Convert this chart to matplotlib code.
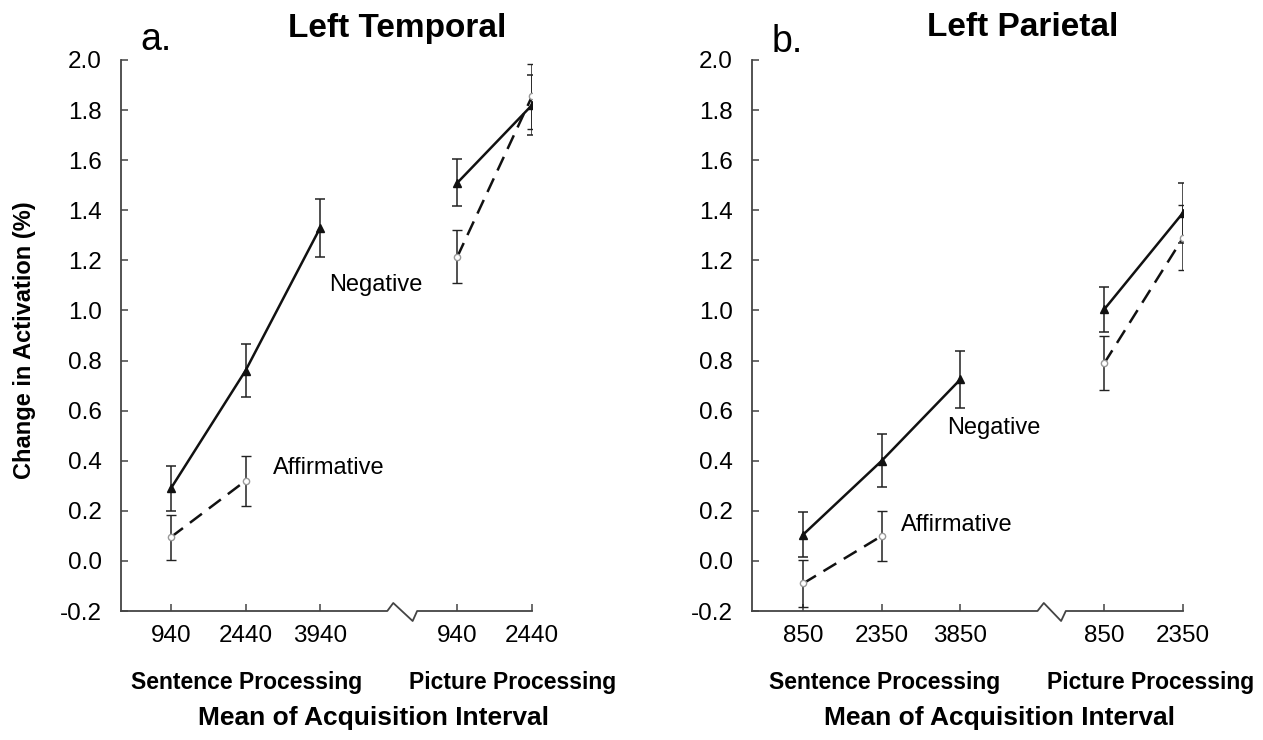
import matplotlib.pyplot as plt
import numpy as np

plt.rcParams['font.family'] = ['Liberation Sans', 'DejaVu Sans']

# data
# panel a: Left Temporal
a_sent_ticks = ['940', '2440', '3940']
a_pict_ticks = ['940', '2440']
a_neg_sent = [0.29, 0.76, 1.33]
a_neg_sent_err = [0.09, 0.105, 0.115]
a_aff_sent = [0.095, 0.32]
a_aff_sent_err = [0.09, 0.10]
a_neg_pict = [1.51, 1.82]
a_neg_pict_err = [0.093, 0.12]
a_aff_pict = [1.215, 1.855]
a_aff_pict_err = [0.107, 0.13]

# panel b: Left Parietal
b_sent_ticks = ['850', '2350', '3850']
b_pict_ticks = ['850', '2350']
b_neg_sent = [0.105, 0.40, 0.725]
b_neg_sent_err = [0.09, 0.105, 0.115]
b_aff_sent = [-0.09, 0.10]
b_aff_sent_err = [0.095, 0.10]
b_neg_pict = [1.005, 1.39]
b_neg_pict_err = [0.09, 0.12]
b_aff_pict = [0.79, 1.29]
b_aff_pict_err = [0.107, 0.13]

yticks = np.arange(-0.2, 2.01, 0.2)

W, H = 1263, 740
fig = plt.figure(figsize=(W / 100, H / 100), dpi=100)


def px(x, y):
    return x / W, 1 - y / H


def panel(rect, gap, xlim, brk, sent_ticks, pict_ticks,
          neg_s, neg_s_e, aff_s, aff_s_e, neg_p, neg_p_e, aff_p, aff_p_e,
          neg_pos, aff_pos):
    ax = fig.add_axes(rect)
    xs = np.arange(len(sent_ticks))
    xp = xs[-1] + gap + np.arange(len(pict_ticks))

    lw = 1.8
    ekw = dict(ecolor='#222222', elinewidth=1.1, capsize=3.5, capthick=1.1)
    # negative: solid line, filled triangles
    for x, y, e in [(xs, neg_s, neg_s_e), (xp, neg_p, neg_p_e)]:
        ax.errorbar(x, y, yerr=e, color='#111111', lw=lw, marker='^',
                    ms=6, mfc='#111111', mec='#111111', zorder=3, **ekw)
    # affirmative: dashed line, small open circles
    for x, y, e in [(xs[:len(aff_s)], aff_s, aff_s_e), (xp, aff_p, aff_p_e)]:
        ax.errorbar(x, y, yerr=e, color='#111111', lw=lw, ls=(0, (6, 3.5)),
                    marker='o', ms=4.5, mfc='white', mec='#999999', mew=1,
                    zorder=3, **ekw)

    ax.set_xlim(*xlim)
    ax.set_ylim(-0.2, 2.0)
    ax.set_yticks(yticks)
    ax.set_yticklabels(['%.1f' % v for v in yticks])
    ax.set_xticks(list(xs) + list(xp))
    ax.set_xticklabels(sent_ticks + pict_ticks)
    for s in ['top', 'right', 'bottom']:
        ax.spines[s].set_visible(False)
    ax.spines['left'].set_color('#444444')
    ax.spines['left'].set_linewidth(1.3)
    ax.tick_params(axis='y', direction='in', length=5, width=1.1,
                   color='#444444', labelsize=17.5, pad=14)
    ax.tick_params(axis='x', direction='in', length=5, width=1.1,
                   color='#444444', labelsize=17.5, pad=10)
    ax.patch.set_visible(False)

    # x axis with a zigzag break
    b0, b1 = brk
    bx = [xlim[0], b0, b0 + 0.08, b1 - 0.06, b1, xp[-1]]
    by = [-0.2, -0.2, -0.168, -0.24, -0.2, -0.2]
    ax.plot(bx, by, color='#444444', lw=1.3, clip_on=False, zorder=2)

    ax.text(neg_pos[0], neg_pos[1], 'Negative', fontsize=17, va='center')
    ax.text(aff_pos[0], aff_pos[1], 'Affirmative', fontsize=17, va='center')
    return ax


# panel a
l, t = px(121, 60)
r, b = px(532, 611)
panel([l, b, r - l, t - b], 1.84, (-0.67, 4.84), (2.9, 3.3),
      a_sent_ticks, a_pict_ticks,
      a_neg_sent, a_neg_sent_err, a_aff_sent, a_aff_sent_err,
      a_neg_pict, a_neg_pict_err, a_aff_pict, a_aff_pict_err,
      (2.12, 1.10), (1.37, 0.37))

# panel b
l, t = px(752, 60)
r, b = px(1183, 611)
panel([l, b, r - l, t - b], 1.83, (-0.65, 4.83), (2.98, 3.34),
      b_sent_ticks, b_pict_ticks,
      b_neg_sent, b_neg_sent_err, b_aff_sent, b_aff_sent_err,
      b_neg_pict, b_neg_pict_err, b_aff_pict, b_aff_pict_err,
      (1.83, 0.53), (1.24, 0.145))

# titles and panel letters
fig.text(*px(397, 28), 'Left Temporal', fontsize=24, fontweight='bold',
         ha='center', va='center')
fig.text(*px(1023, 28), 'Left Parietal', fontsize=24, fontweight='bold',
         ha='center', va='center')
fig.text(*px(140, 40), 'a.', fontsize=27, ha='left', va='center')
fig.text(*px(772, 42), 'b.', fontsize=27, ha='left', va='center')

# y label
fig.text(*px(25, 340), 'Change in Activation (%)', fontsize=17,
         fontweight='bold', rotation=90, ha='center', va='center')

# group labels and x titles
for xc, s in [(247, 'Sentence Processing'), (513, 'Picture Processing'),
              (885, 'Sentence Processing'), (1151, 'Picture Processing')]:
    fig.text(*px(xc, 683), s, fontsize=16.5, fontweight='bold',
             ha='center', va='center')
for xc in [373, 1000]:
    fig.text(*px(xc, 718), 'Mean of Acquisition Interval', fontsize=19,
             fontweight='bold', ha='center', va='center')

fig.savefig('out.png', dpi=100)
